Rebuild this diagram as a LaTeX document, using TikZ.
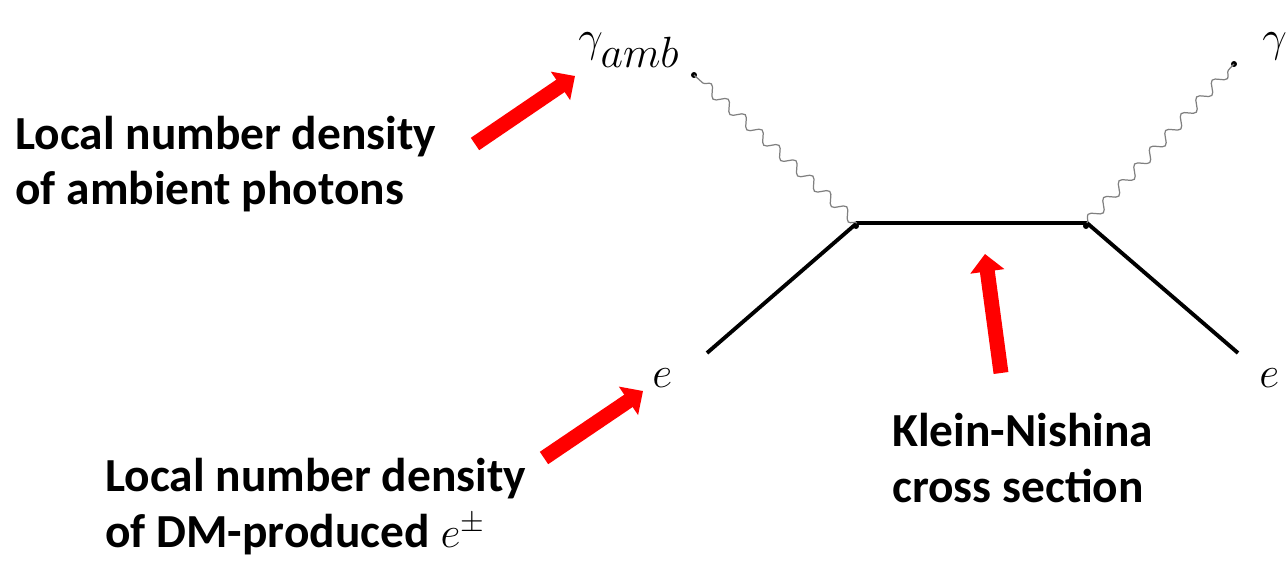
\documentclass[tikz,border=0pt]{standalone}
\usepackage{fontspec}
\setmainfont{Carlito}
\usetikzlibrary{positioning,arrows.meta,decorations.pathmorphing}

\begin{document}
\begin{tikzpicture}[x=0.02cm,y=-0.02cm,
  lbl/.style={font=\fontsize{27}{31.5}\selectfont\bfseries,align=left,inner sep=0pt,anchor=base west},
  ptl/.style={font=\fontsize{34}{36}\selectfont,inner sep=0pt,anchor=base west},
  fermion/.style={line width=2.2pt,line join=miter},
  photon/.style={draw=black!50,line width=0.7pt,decorate,decoration={snake,amplitude=2.9pt,segment length=13pt}},
  dotmark/.style={circle,fill=black,inner sep=0pt,minimum size=3.4pt},
  hint/.style={draw=red,line width=8.5pt,-{Triangle[length=10pt,width=19pt]}}]
  \clip (0,0) rectangle (1286,564);
  % vertices and external legs
  \coordinate (v1) at (857,223);
  \coordinate (v2) at (1087,223);
  \coordinate (ein) at (707,353);
  \coordinate (eout) at (1238,353);
  \node[dotmark] (gin) at (694,75) {};
  \node[dotmark] (gout) at (1234,64) {};
  \node[dotmark] (d1) at (856,226) {};
  \node[dotmark] (d2) at (1086,226) {};
  \draw[fermion] (ein) -- (v1) -- (v2) -- (eout);
  \draw[photon] (v1) -- (gin.center);
  \draw[photon] (v2) -- (gout.center);
  % particle labels
  \node[ptl] (gamb) at (578,52) {$\gamma_{amb}$};
  \node[ptl] (gam) at (1262,52) {$\gamma$};
  \node[ptl] (e1) at (652,388) {$e$};
  \node[ptl] (e2) at (1259,388) {$e$};
  % annotations
  \node[lbl] (nph) at (15,205) {Local number density\\of ambient photons};
  \node[lbl] (nel) at (105,547) {Local number density\\of DM-produced $e^{\pm}$};
  \node[lbl] (kn) at (892,502) {Klein-Nishina\\cross section};
  \coordinate (a1s) at (475,144);
  \coordinate (a1e) at (575,76);
  \coordinate (a2s) at (544,458);
  \coordinate (a2e) at (643,391);
  \coordinate (a3s) at (1001,373);
  \coordinate (a3e) at (985,254);
  \draw[hint] (a1s) -- (a1e);
  \draw[hint] (a2s) -- (a2e);
  \draw[hint] (a3s) -- (a3e);
\end{tikzpicture}
\end{document}
